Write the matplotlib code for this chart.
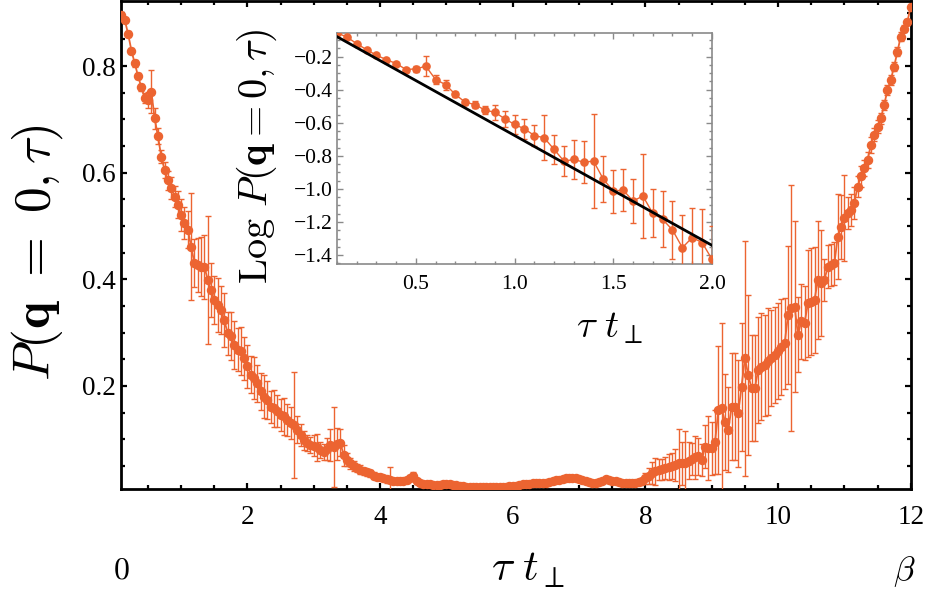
import numpy as np
import matplotlib
matplotlib.use("Agg")
import matplotlib.pyplot as plt
from matplotlib.ticker import MultipleLocator, FixedLocator

plt.rcParams['mathtext.fontset'] = 'cm'
plt.rcParams['font.family'] = ['Liberation Serif', 'DejaVu Serif']

ORANGE = '#EC6431'

# ---------------- main data (tau = 0.10 ... 12.00, step 0.05) ----------------
tau_start, tau_stop, tau_step = 0.10, 12.00, 0.05
P_main = [
    0.896, 0.886, 0.860, 0.829, 0.805, 0.781, 0.760, 0.740, 0.736, 0.752,
    0.702, 0.668, 0.630, 0.605, 0.586, 0.571, 0.555, 0.540, 0.521, 0.505,
    0.493, 0.461, 0.430, 0.427, 0.424, 0.424, 0.399, 0.380, 0.361, 0.352,
    0.343, 0.324, 0.299, 0.293, 0.277, 0.268, 0.265, 0.252, 0.237, 0.221,
    0.215, 0.205, 0.190, 0.180, 0.174, 0.161, 0.158, 0.154, 0.146, 0.143,
    0.136, 0.130, 0.127, 0.118, 0.108, 0.098, 0.093, 0.090, 0.088, 0.085,
    0.080, 0.077, 0.082, 0.090, 0.086, 0.092, 0.094, 0.070, 0.062, 0.055,
    0.050, 0.046, 0.043, 0.040, 0.038, 0.036, 0.032, 0.030, 0.030, 0.027,
    0.025, 0.024, 0.022, 0.021, 0.021, 0.022, 0.024, 0.028, 0.032, 0.022,
    0.018, 0.017, 0.017, 0.016, 0.015, 0.015, 0.015, 0.016, 0.017, 0.016,
    0.015, 0.014, 0.013, 0.012, 0.011, 0.011, 0.011, 0.011, 0.011, 0.010,
    0.010, 0.010, 0.010, 0.010, 0.010, 0.011, 0.011, 0.012, 0.013, 0.013,
    0.014, 0.016, 0.017, 0.017, 0.018, 0.018, 0.019, 0.019, 0.019, 0.020,
    0.021, 0.023, 0.024, 0.026, 0.027, 0.028, 0.028, 0.027, 0.025, 0.023,
    0.021, 0.020, 0.019, 0.019, 0.020, 0.022, 0.025, 0.024, 0.022, 0.021,
    0.020, 0.019, 0.019, 0.019, 0.019, 0.019, 0.020, 0.022, 0.027, 0.032,
    0.037, 0.040, 0.043, 0.044, 0.046, 0.048, 0.050, 0.052, 0.055, 0.055,
    0.056, 0.060, 0.064, 0.066, 0.068, 0.061, 0.086, 0.084, 0.083, 0.095,
    0.155, 0.158, 0.133, 0.118, 0.161, 0.161, 0.149, 0.199, 0.252, 0.221,
    0.196, 0.196, 0.230, 0.236, 0.239, 0.246, 0.252, 0.258, 0.266, 0.274,
    0.280, 0.333, 0.346, 0.349, 0.296, 0.321, 0.318, 0.355, 0.358, 0.361,
    0.399, 0.393, 0.399, 0.424, 0.427, 0.430, 0.480, 0.499, 0.515, 0.524,
    0.530, 0.543, 0.574, 0.593, 0.608, 0.624, 0.652, 0.671, 0.686, 0.702,
    0.727, 0.755, 0.774, 0.799, 0.827, 0.855, 0.870, 0.883, 0.911,
]
err_main = [
    0.004, 0.004, 0.005, 0.005, 0.006, 0.006, 0.007, 0.010, 0.015, 0.040,
    0.020, 0.015, 0.012, 0.015, 0.018, 0.020, 0.020, 0.025, 0.030, 0.030,
    0.035, 0.100, 0.045, 0.050, 0.055, 0.060, 0.120, 0.050, 0.045, 0.050,
    0.045, 0.050, 0.040, 0.045, 0.045, 0.040, 0.045, 0.040, 0.040, 0.035,
    0.040, 0.035, 0.035, 0.040, 0.035, 0.030, 0.035, 0.030, 0.030, 0.035,
    0.030, 0.030, 0.100, 0.025, 0.020, 0.018, 0.015, 0.015, 0.020, 0.025,
    0.015, 0.015, 0.020, 0.030, 0.075, 0.030, 0.025, 0.020, 0.012, 0.010,
    0.009, 0.008, 0.008, 0.007, 0.007, 0.006, 0.006, 0.005, 0.005, 0.005,
    0.006, 0.025, 0.005, 0.005, 0.004, 0.004, 0.005, 0.006, 0.006, 0.004,
    0.004, 0.004, 0.003, 0.003, 0.003, 0.003, 0.003, 0.003, 0.003, 0.003,
    0.003, 0.003, 0.003, 0.003, 0.003, 0.003, 0.003, 0.003, 0.003, 0.003,
    0.003, 0.003, 0.003, 0.003, 0.003, 0.003, 0.003, 0.003, 0.003, 0.003,
    0.003, 0.003, 0.003, 0.003, 0.003, 0.003, 0.003, 0.003, 0.003, 0.003,
    0.004, 0.004, 0.004, 0.004, 0.004, 0.004, 0.004, 0.004, 0.004, 0.004,
    0.004, 0.004, 0.004, 0.004, 0.004, 0.004, 0.004, 0.004, 0.004, 0.004,
    0.004, 0.004, 0.004, 0.004, 0.004, 0.005, 0.005, 0.006, 0.010, 0.015,
    0.020, 0.025, 0.020, 0.020, 0.020, 0.025, 0.025, 0.030, 0.065, 0.040,
    0.060, 0.035, 0.030, 0.040, 0.035, 0.030, 0.040, 0.060, 0.050, 0.060,
    0.120, 0.160, 0.090, 0.080, 0.100, 0.100, 0.100, 0.120, 0.220, 0.150,
    0.100, 0.100, 0.100, 0.100, 0.095, 0.100, 0.090, 0.090, 0.090, 0.090,
    0.085, 0.130, 0.230, 0.160, 0.070, 0.070, 0.070, 0.100, 0.100, 0.100,
    0.110, 0.100, 0.040, 0.040, 0.040, 0.040, 0.080, 0.060, 0.080, 0.030,
    0.030, 0.030, 0.020, 0.020, 0.015, 0.015, 0.015, 0.012, 0.012, 0.010,
    0.010, 0.010, 0.010, 0.008, 0.008, 0.008, 0.006, 0.006, 0.005,
]

# ---------------- inset data (tau = 0.10 ... 2.00, step 0.05) ----------------
inset_start, inset_stop = 0.10, 2.00
logP_inset = [
    -0.057, -0.081, -0.122, -0.158, -0.192, -0.218, -0.242, -0.278, -0.274, -0.258,
    -0.339, -0.369, -0.429, -0.476, -0.490, -0.524, -0.536, -0.576, -0.610, -0.637,
    -0.677, -0.691, -0.761, -0.832, -0.822, -0.838, -0.832, -0.942, -1.013, -1.007,
    -1.073, -1.043, -1.147, -1.184, -1.248, -1.355, -1.294, -1.324, -1.425,
]
err_inset = [
    0.004, 0.004, 0.006, 0.006, 0.007, 0.008, 0.009, 0.012, 0.020, 0.060,
    0.025, 0.030, 0.015, 0.015, 0.020, 0.025, 0.045, 0.050, 0.055, 0.060,
    0.065, 0.136, 0.090, 0.090, 0.115, 0.125, 0.285, 0.140, 0.130, 0.125,
    0.135, 0.255, 0.145, 0.170, 0.175, 0.200, 0.180, 0.200, 0.200,
]
fit_intercept, fit_slope = -0.013, -0.664

n_main = int(round((tau_stop - tau_start) / tau_step)) + 1
tau_main = np.round(tau_start + tau_step * np.arange(n_main), 2)
n_in = int(round((inset_stop - inset_start) / tau_step)) + 1
tau_inset = np.round(inset_start + tau_step * np.arange(n_in), 2)
assert len(P_main) == n_main == len(err_main), (len(P_main), n_main, len(err_main))
assert len(logP_inset) == n_in == len(err_inset)

fig = plt.figure(figsize=(9.44, 6.05), dpi=100)

# ---------------- main axes ----------------
ax = fig.add_axes([0.1287, 0.191, 0.8360, 0.8074])
ax.errorbar(tau_main, P_main, yerr=err_main, fmt='-o', color=ORANGE,
            ms=5.8, lw=1.3, elinewidth=1.0, capsize=2.2, capthick=1.0,
            zorder=3)
ax.set_xlim(0.1, 12.0)
ax.set_ylim(0.006, 0.922)
ax.xaxis.set_major_locator(FixedLocator([2, 4, 6, 8, 10, 12]))
ax.xaxis.set_minor_locator(MultipleLocator(0.5))
ax.yaxis.set_major_locator(FixedLocator([0.2, 0.4, 0.6, 0.8]))
ax.yaxis.set_minor_locator(MultipleLocator(0.05))
ax.tick_params(which='both', direction='in', top=True, right=True,
               color='black', width=1.6)
ax.tick_params(which='major', length=4.5)
ax.tick_params(which='minor', length=3.0)
ax.tick_params(axis='x', which='major', labelsize=19.5, pad=11)
ax.tick_params(axis='y', which='major', labelsize=19.5, pad=4)
for s in ax.spines.values():
    s.set_linewidth(2.0)
    s.set_color('black')

fig.text(0.039, 0.583, r'$P(\mathbf{q}\ =\ 0,\tau)$', rotation=90,
         fontsize=37, ha='center', va='center')
fig.text(0.559, 0.057, r'$\tau\ t_{\perp}$', fontsize=31,
         ha='center', va='center')
fig.text(0.129, 0.057, r'$0$', fontsize=23, ha='center', va='center')
fig.text(0.958, 0.055, r'$\beta$', fontsize=25, ha='center', va='center')

# ---------------- inset ----------------
GRAY = '#8a8a8a'
ins = fig.add_axes([0.3570, 0.5636, 0.3972, 0.3819])
ins.errorbar(tau_inset, logP_inset, yerr=err_inset, fmt='-o', color=ORANGE,
             ms=5.2, lw=1.0, elinewidth=1.0, capsize=2.2, capthick=1.0,
             zorder=3, clip_on=True)
xf = np.array([inset_start, inset_stop])
ins.plot(xf, fit_intercept + fit_slope * xf, color='black', lw=2.0, zorder=4)
ins.set_xlim(0.1, 2.0)
ins.set_ylim(-1.454, -0.057)
ins.xaxis.set_major_locator(FixedLocator([0.5, 1.0, 1.5, 2.0]))
ins.xaxis.set_minor_locator(MultipleLocator(0.1))
ins.yaxis.set_major_locator(FixedLocator([-1.4, -1.2, -1.0, -0.8, -0.6, -0.4, -0.2]))
ins.yaxis.set_minor_locator(MultipleLocator(0.05))
ins.tick_params(which='both', direction='in', top=True, right=True,
                color=GRAY, width=1.0)
ins.tick_params(which='major', length=4.0)
ins.tick_params(which='minor', length=2.5)
ins.tick_params(axis='x', which='major', labelsize=15.5, pad=8)
ins.tick_params(axis='y', which='major', labelsize=15.5, pad=3)
ins.yaxis.set_major_formatter(matplotlib.ticker.FuncFormatter(
    lambda v, p: ('\u2212' if v < 0 else '') + f'{abs(v):.1f}'))
for s in ins.spines.values():
    s.set_linewidth(1.2)
    s.set_color(GRAY)

fig.text(0.272, 0.742, r'$\mathrm{Log}\ P(\mathbf{q}=0,\tau)$', rotation=90,
         fontsize=29, ha='center', va='center')
fig.text(0.645, 0.458, r'$\tau\ t_{\perp}$', fontsize=28,
         ha='center', va='center')

fig.savefig('out.png', dpi=100)
